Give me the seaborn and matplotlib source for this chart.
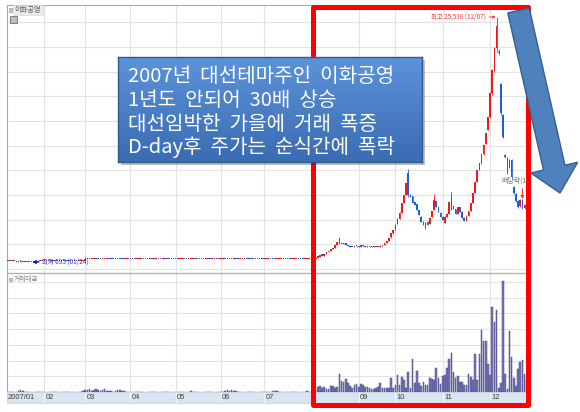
import numpy as np
import pandas as pd
import matplotlib
matplotlib.use("Agg")
import matplotlib.pyplot as plt
from matplotlib.patches import Polygon, Rectangle
from matplotlib.colors import LinearSegmentedColormap
import seaborn as sns

# 1~7월 일봉 종가 (1/9 부터)
close_jan = [760, 750, 770, 755, 740, 760, 745, 730, 720, 710, 705, 700, 720, 740, 760, 750, 770]
close_feb = [780, 790, 770, 800, 810, 790, 780, 800, 820, 810, 800, 790, 810, 830, 820, 800, 810, 830, 850]
close_mar = [980, 1000, 990, 1010, 1020, 1000, 990, 980, 1000, 1010, 1030, 1020, 1000, 990, 1010, 1020, 1000, 980, 990, 1010, 1000]
close_apr = [1010, 1000, 990, 1000, 1020, 1030, 1010, 1000, 990, 980, 1000, 1010, 1020, 1000, 990, 1000, 1010, 1000, 990, 980, 1000]
close_may = [990, 1000, 1010, 1020, 1000, 990, 1000, 1010, 1030, 1020, 1000, 990, 980, 1000, 1010, 1000, 990, 1000, 1020, 1010, 1000]
close_jun = [1000, 1010, 990, 980, 1000, 1010, 1020, 1000, 990, 1000, 1010, 1030, 1020, 1000, 990, 980, 990, 1000, 1010, 1000]
close_jul = [1000, 1020, 1030, 1010, 1000, 990, 1000, 1020, 1040, 1030, 1010, 1000, 990, 1000, 1010, 1020, 1000, 990, 980, 990, 1000, 1000]
# 눈에 띄는 꼬리 (일자 번호: 고가, 저가)
flat_wicks = {11: (720, 695), 36: (1200, 850)}

# 8~12월 일봉 (시가, 고가, 저가, 종가)
ohlc_aug = [(1000, 1060, 990, 1050), (1050, 1060, 990, 1000), (1000, 1160, 1000, 1150), (1150, 1260, 1140, 1250),
            (1250, 1410, 1240, 1400), (1400, 1420, 1340, 1350), (1350, 1560, 1350, 1550), (1550, 1710, 1540, 1700),
            (1700, 1820, 1690, 1800), (1800, 2010, 1790, 2000), (2000, 2160, 1990, 2150), (2150, 2410, 2140, 2400),
            (2400, 2710, 2390, 2700), (3000, 3200, 2550, 2600), (2600, 2650, 2480, 2500), (2500, 2660, 2490, 2650),
            (2650, 2660, 2440, 2450), (2450, 2460, 2290, 2300), (2300, 2310, 2240, 2250), (2250, 2260, 2190, 2200),
            (2200, 2310, 2190, 2300), (2300, 2340, 2260, 2280)]
ohlc_sep = [(2280, 2300, 2190, 2200), (2200, 2410, 2190, 2400), (2400, 2410, 2290, 2300), (2300, 2310, 2190, 2200),
            (2200, 2360, 2190, 2350), (2350, 2360, 2240, 2250), (2250, 2310, 2240, 2300), (2300, 2310, 2190, 2200),
            (2200, 2260, 2190, 2250), (2250, 2260, 2190, 2200), (2200, 2360, 2190, 2350), (2350, 2460, 2340, 2450),
            (2450, 2610, 2440, 2600), (2600, 2810, 2590, 2800), (2800, 3110, 2790, 3100), (3200, 3610, 3180, 3600),
            (3600, 3910, 3580, 3900)]
ohlc_oct = [(4000, 4520, 3980, 4500), (4600, 5120, 4580, 5100), (5100, 5720, 5080, 5700), (5700, 6720, 5680, 6700),
            (6700, 7520, 6680, 7500), (7500, 8720, 7480, 8700), (9700, 10130, 7300, 7500), (7500, 7600, 7280, 7300),
            (7400, 7420, 6680, 6700), (6800, 6820, 6480, 6500), (6600, 6620, 5980, 6000), (6000, 6020, 5480, 5500),
            (5300, 5320, 4780, 4800), (4800, 4820, 4480, 4500), (4200, 4720, 4000, 4700), (4800, 4820, 4480, 4500),
            (4600, 5220, 4580, 5200), (5300, 5920, 5280, 5900), (6000, 7600, 5980, 7000), (6900, 6920, 6280, 6300),
            (6300, 6320, 5780, 5800), (5700, 5720, 5280, 5300)]
ohlc_nov = [(5300, 5320, 4980, 5000), (4700, 5320, 4680, 5300), (5300, 5620, 5280, 5600), (5600, 6820, 5580, 6800),
            (7400, 7800, 5980, 6000), (6400, 6420, 6080, 6100), (6100, 6120, 5580, 5600), (5600, 6320, 5580, 6300),
            (6300, 6320, 5780, 5800), (5800, 5820, 5180, 5200), (5200, 5220, 4880, 4900), (4900, 5420, 4880, 5400),
            (5400, 5920, 5380, 5900), (5900, 6720, 5880, 6700), (6700, 7720, 6680, 7700), (7700, 8820, 7680, 8800),
            (8800, 10020, 8780, 10000), (10000, 10720, 9980, 10700), (10700, 11620, 10680, 11600),
            (11600, 12620, 11580, 12600), (12700, 13820, 12680, 13800), (14100, 15420, 14080, 15400)]
ohlc_dec = [(15400, 17900, 15300, 17800), (17800, 20300, 17600, 20200), (20200, 22500, 20000, 22400),
            (22400, 25538, 22000, 24600), (22000, 22300, 21700, 21900), (18700, 18800, 15600, 15800),
            (15600, 15700, 13300, 13400), (11500, 11600, 11200, 11300), (11200, 11300, 9600, 9700),
            (10300, 11100, 10200, 11000), (11000, 11100, 9200, 9300), (8300, 8400, 7600, 7700),
            (7600, 7700, 6800, 6900), (6900, 7000, 6200, 6300), (6400, 7100, 6300, 7000),
            (7000, 7100, 6100, 6200), (6200, 6600, 6100, 6500), (6500, 6600, 6300, 6400)]

# 거래대금 (억원, 추정)
vol_jan = [1, 2, 1, 3, 2, 6, 10, 5, 2, 1, 2, 3, 1, 2, 1, 1, 2]
vol_feb = [1, 2, 1, 1, 2, 1, 3, 2, 1, 2, 1, 1, 2, 1, 1, 2, 1, 3, 5]
vol_mar = [15, 10, 18, 8, 14, 20, 12, 6, 10, 16, 8, 4, 6, 3, 8, 10, 12, 6, 4, 3, 2]
vol_apr = [2, 1, 2, 3, 1, 2, 1, 1, 2, 3, 2, 1, 2, 1, 2, 1, 3, 2, 1, 2, 1]
vol_may = [1, 2, 1, 1, 3, 2, 1, 4, 2, 1, 2, 1, 1, 2, 1, 2, 1, 3, 2, 1, 2]
vol_jun = [2, 1, 8, 10, 6, 12, 9, 5, 3, 2, 1, 2, 1, 2, 3, 2, 1, 2, 1, 2]
vol_jul = [1, 2, 1, 2, 4, 7, 5, 3, 2, 1, 2, 1, 2, 1, 2, 3, 2, 1, 2, 3, 4, 3]
vol_aug = [5, 8, 12, 30, 35, 28, 32, 20, 18, 35, 38, 25, 30, 115, 70, 64, 83, 58, 40, 26, 45, 51]
vol_sep = [34, 51, 45, 32, 30, 25, 19, 22, 28, 32, 58, 26, 24, 28, 26, 90, 26]
vol_oct = [45, 109, 45, 96, 77, 26, 128, 26, 212, 58, 135, 58, 38, 64, 45, 45, 90, 83, 77, 154, 90, 51]
vol_nov = [103, 109, 154, 212, 250, 128, 90, 103, 64, 64, 45, 45, 115, 96, 77, 244, 77, 244, 397, 321, 327, 179]
vol_dec = [109, 538, 442, 519, 26, 60, 705, 115, 19, 385, 224, 90, 40, 147, 192, 205, 115, 80]

month_labels = ["2007/01", "02", "03", "04", "05", "06", "07", "08", "09", "10", "11", "12"]
box_lines = ["2007년 대선테마주인 이화공영", "1년도 안되어 30배 상승",
             "대선임박한 가을에 거래 폭증", "D-day후 주가는 순식간에 폭락"]

# ---- 데이터 정리 ----
flat = close_jan + close_feb + close_mar + close_apr + close_may + close_jun + close_jul
rows = []
prev = flat[0]
for i, c in enumerate(flat):
    hi, lo = max(prev, c), min(prev, c)
    if i in flat_wicks:
        hi, lo = flat_wicks[i]
    rows.append((prev, hi, lo, c))
    prev = c
rows += ohlc_aug + ohlc_sep + ohlc_oct + ohlc_nov + ohlc_dec
df = pd.DataFrame(rows, columns=["open", "high", "low", "close"])
df["idx"] = np.arange(len(df))
df["vol"] = (vol_jan + vol_feb + vol_mar + vol_apr + vol_may + vol_jun + vol_jul
             + vol_aug + vol_sep + vol_oct + vol_nov + vol_dec)

months = [close_jan, close_feb, close_mar, close_apr, close_may, close_jun, close_jul,
          ohlc_aug, ohlc_sep, ohlc_oct, ohlc_nov, ohlc_dec]
month_starts = np.cumsum([0] + [len(m) for m in months])[:-1]
dec0 = month_starts[-1]
peak_idx = dec0 + 3
low_idx = 11
exdiv_idx = dec0 + 15

# ---- 스타일 ----
sns.set_theme(style="white")
plt.rcParams["font.family"] = ["Noto Sans CJK KR", "DejaVu Sans"]

W, H = 580, 412
fig = plt.figure(figsize=(5.8, 4.12), dpi=100)
fig.patch.set_facecolor("white")


def fig_box(x0, y0, x1, y1):
    return [x0 / W, 1 - y1 / H, (x1 - x0) / W, (y1 - y0) / H]


def fp(x, y):
    return (x / W, 1 - y / H)


XL = (-0.33, 241.6)
grid_c = "#e3e3e3"
edge_c = "#a9a9a9"

ax = fig.add_axes(fig_box(7, 5, 528, 273))
axv = fig.add_axes(fig_box(7, 273, 528, 392))
axs = fig.add_axes(fig_box(7, 392, 528, 403))

# 가격 캔들
up = df["close"] >= df["open"]
colors = np.where(up, "#f21818", "#1c5fe3")
body_lo = np.minimum(df["open"], df["close"])
body_h = np.maximum((df["close"] - df["open"]).abs(), 110)
ax.vlines(df["idx"], df["low"], df["high"], colors=colors, lw=0.6, zorder=3)
ax.bar(df["idx"], body_h, bottom=body_lo, width=0.75, color=colors, linewidth=0, zorder=3)
ax.set_xlim(*XL)
ax.set_ylim(-416, 26754)
ax.set_xticks(month_starts[1:])
ax.set_yticks(np.arange(0, 25001, 2500))
ax.grid(True, color=grid_c, lw=0.8)
ax.tick_params(length=0, labelleft=False, labelbottom=False)
for s in ["right", "bottom"]:
    ax.spines[s].set_visible(False)
for s in ["left", "top"]:
    ax.spines[s].set_color(edge_c)
    ax.spines[s].set_linewidth(0.8)

ax.annotate("최고 25,538 (12/07)", xy=(peak_idx - 0.4, 25538), xytext=(-10, 0),
            textcoords="offset pixels", ha="right", va="center", fontsize=4.6, color="#ff3b3b",
            arrowprops=dict(arrowstyle="-|>", color="#ff3b3b", lw=0.6, mutation_scale=4,
                            shrinkA=0, shrinkB=0))
ax.annotate("최저 695 (01/24)", xy=(low_idx + 0.4, 695), xytext=(10, 0),
            textcoords="offset pixels", ha="left", va="center", fontsize=4.6, color="#3535c8",
            arrowprops=dict(arrowstyle="-|>", color="#1010a0", lw=0.8, mutation_scale=5,
                            shrinkA=0, shrinkB=0))
ax.text(dec0 + 5.3, 9000, "배당락(12/27)", fontsize=5, color="#707070", ha="left", va="center",
        clip_on=True)
ax.annotate("", xy=(exdiv_idx, df.loc[exdiv_idx, "high"]), xytext=(0, 10),
            textcoords="offset pixels",
            arrowprops=dict(arrowstyle="-|>", color="#ff2020", lw=0.7, mutation_scale=4,
                            shrinkA=0, shrinkB=0))

# 거래대금
sns.barplot(data=df, x="idx", y="vol", native_scale=True, ax=axv, color="#7676b2",
            saturation=1, edgecolor="#4a4a88", linewidth=0.35, width=0.75, errorbar=None)
axv.set_xlim(*XL)
axv.set_ylim(0, 756)
axv.set_xticks(month_starts[1:])
axv.set_yticks(np.arange(100, 701, 100))
axv.grid(True, color=grid_c, lw=0.8)
axv.set_axisbelow(True)
axv.set_xlabel("")
axv.set_ylabel("")
axv.tick_params(length=0, labelleft=False, labelbottom=False)
for s in ["right", "bottom"]:
    axv.spines[s].set_visible(False)
axv.spines["top"].set_color("#b5b5b5")
axv.spines["top"].set_linewidth(1.0)
axv.spines["left"].set_color(edge_c)
axv.spines["left"].set_linewidth(0.8)

# 날짜 축 (8월 라벨은 빨간 테두리에 가려짐)
axs.set_facecolor("#dae4f0")
axs.set_xlim(*XL)
axs.set_ylim(0, 1)
for m in month_starts[1:]:
    axs.axvline(m, color="#f2f6fb", lw=0.8)
axs.text(XL[0] + 0.5, 0.5, month_labels[0], fontsize=5.5, color="#404040", va="center",
         ha="left", family="Liberation Sans")
for m, lab in zip(month_starts[1:], month_labels[1:]):
    if lab == "08":
        continue
    axs.text(m + 0.6, 0.5, lab, fontsize=5.5, color="#404040", va="center", ha="left",
             family="Liberation Sans")
axs.set_xticks([])
axs.set_yticks([])
for s in axs.spines.values():
    s.set_color("#c8d2de")
    s.set_linewidth(0.6)

# 패널 라벨
fig.add_artist(Rectangle(fp(13, 15), 30 / W, 10 / H, facecolor="#ececec", edgecolor="#d0d0d0",
                         lw=0.4, transform=fig.transFigure))
fig.add_artist(Rectangle(fp(8.5, 12), 3.5 / W, 3.5 / H, facecolor="#c8c8c8", edgecolor="#8a8a8a",
                         lw=0.4, transform=fig.transFigure))
fig.text(*fp(14, 10), "이화공영", fontsize=5.2, color="#5a5a5a", va="center", ha="left")
fig.add_artist(Rectangle(fp(10, 23), 7 / W, 7 / H, facecolor="#bdbdbd", edgecolor="#6f6f6f",
                         lw=0.6, transform=fig.transFigure))
fig.add_artist(Rectangle(fp(8.5, 281), 3.5 / W, 3.5 / H, facecolor="#c8c8c8", edgecolor="#8a8a8a",
                         lw=0.4, transform=fig.transFigure))
fig.text(*fp(14, 279), "거래대금", fontsize=4.8, color="#7a7a7a", va="center", ha="left")

# 빨간 테두리
fig.add_artist(Rectangle(fp(312.5, 404.5), 215 / W, 398 / H, fill=False, edgecolor="#ff0000",
                         lw=3.6, joinstyle="round", transform=fig.transFigure, zorder=1))

# 설명 상자
fig.add_artist(Rectangle(fp(121, 165), 304 / W, 105 / H, facecolor="#000000", alpha=0.25,
                         lw=0, transform=fig.transFigure, zorder=1.5))
box = fig.add_axes(fig_box(118, 57, 422, 162))
box.set_zorder(2)
grad = np.linspace(0, 1, 64).reshape(-1, 1)
box.imshow(grad, aspect="auto", extent=[0, 1, 0, 1],
           cmap=LinearSegmentedColormap.from_list("b", ["#5c93d9", "#3a6cb3"]))
box.set_xticks([])
box.set_yticks([])
for s in box.spines.values():
    s.set_color("#34598a")
    s.set_linewidth(1.0)
for line, yb in zip(box_lines, [82, 106, 130, 153]):
    fig.text(*fp(128, yb), line.replace(" ", "  "), fontsize=14.5, color="white",
             ha="left", va="baseline", zorder=4, fontweight="light")

# 파란 화살표
T = np.array([518.5, 10.5])
P = np.array([560.0, 193.0])
u = (P - T) / np.linalg.norm(P - T)
n = np.array([-u[1], u[0]])
B = P - 26 * u
pts = [T + 11 * n, B + 11 * n, B + 24 * n, P, B - 24 * n, B - 11 * n, T - 11 * n]
fig.add_artist(Polygon([fp(*p) for p in pts], closed=True, facecolor="#4f81bd",
                       edgecolor="#365f91", lw=1.0, transform=fig.transFigure, zorder=3))

fig.savefig("out.png", dpi=100)
